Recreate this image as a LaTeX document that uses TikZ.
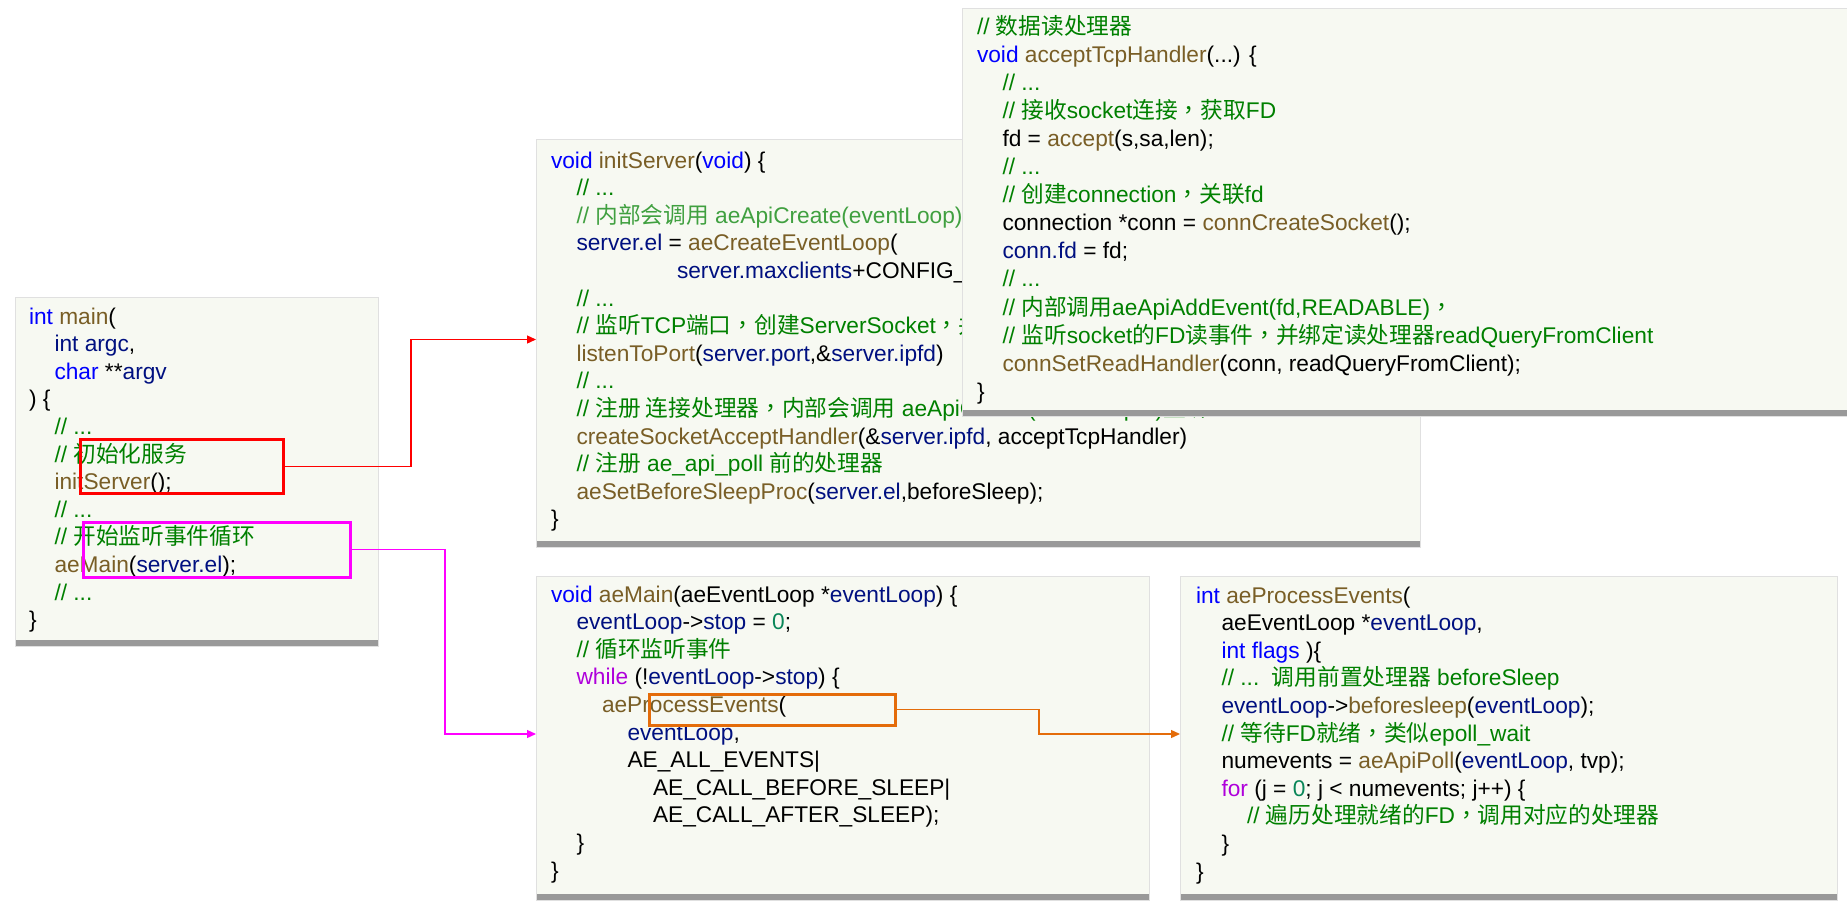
\documentclass[tikz,border=0pt]{standalone}
\usepackage{fontspec}
\setmainfont{Liberation Sans}
\newfontfamily\cjkfont{Noto Sans CJK SC}
\newfontfamily\cjkpunct{Noto Sans CJK TC}
\usetikzlibrary{arrows.meta,positioning}

\definecolor{kwblue}{RGB}{0,0,255}
\definecolor{fnbrown}{RGB}{121,94,38}
\definecolor{varblue}{RGB}{0,16,128}
\definecolor{ctlpurple}{RGB}{175,0,219}
\definecolor{cmtgreen}{RGB}{0,128,0}
\definecolor{cmtlight}{RGB}{64,160,64}
\definecolor{numteal}{RGB}{9,134,88}
\definecolor{boxbg}{RGB}{247,249,242}
\definecolor{barclr}{RGB}{153,153,153}
\definecolor{hlred}{RGB}{255,0,0}
\definecolor{hlpink}{RGB}{255,0,255}
\definecolor{hlorange}{RGB}{228,108,10}

% code colouring
\newcommand{\kw}[1]{{\color{kwblue}#1}}
\newcommand{\fn}[1]{{\color{fnbrown}#1}}
\newcommand{\vr}[1]{{\color{varblue}#1}}
\newcommand{\ctl}[1]{{\color{ctlpurple}#1}}
\newcommand{\cmt}[1]{{\color{cmtgreen}#1}}
\newcommand{\numc}[1]{{\color{numteal}#1}}
\newcommand{\zh}[1]{{\cjkfont #1}}
\newcommand{\zc}{{\cjkpunct ，}}
\newcommand{\ind}{\hspace*{25.5pt}}
\newcommand{\fl}{\rule{0pt}{21pt}}

\begin{document}
\begin{tikzpicture}[x=1pt,y=-1pt,
  codebox/.style={draw=black!12,line width=1pt,fill=boxbg,inner sep=0pt,outer sep=0pt,anchor=north west,
    path picture={\fill[barclr] ([yshift=6pt]path picture bounding box.south west) rectangle (path picture bounding box.south east);}},
  code/.style={anchor=north west,inner sep=0pt,outer sep=0pt,align=left,font=\fontsize{22.7}{27.6}\selectfont},
  hlbox/.style={line width=3.3pt,inner sep=0pt,anchor=north west},
  conn/.style={line width=1.3pt,-{Triangle[length=9pt,width=8pt]}}]
\clip (0,0) rectangle (1847,904);
\fill[white] (0,0) rectangle (1847,904);

% main()
\node[codebox,minimum width=363,minimum height=349] (mainbox) at (15,297) {};
\node[code] (maintxt) at ([xshift=14pt,yshift=-6pt]mainbox.north west) {\fl\kw{int} \fn{main}(\\
\ind\vr{int argc},\\
\ind\kw{char} **\vr{argv}\\
) \{\\
\ind\cmt{// ...}\\
\ind\cmt{// \zh{初始化服务}}\\
\ind\fn{initServer}();\\
\ind\cmt{// ...}\\
\ind\cmt{// \zh{开始监听事件循环}}\\
\ind\fn{aeMain}(\vr{server.el});\\
\ind\cmt{// ...}\\
\}};

% initServer()
\node[codebox,minimum width=884,minimum height=407] (initbox) at (536,140) {};
\node[code] (inittxt) at ([xshift=15pt,yshift=-7pt]initbox.north west) {\fl\kw{void} \fn{initServer}(\kw{void}) \{\\
\ind\cmt{// ...}\\
\ind{\color{cmtlight}// \zh{内部会调用} aeApiCreate(eventLoop)}\\
\ind\vr{server.el} = \fn{aeCreateEventLoop}(\\
\hspace*{126pt}\vr{server.maxclients}+CONFIG\_\\
\ind\cmt{// ...}\\
\ind\cmt{// \zh{监听}TCP\zh{端口}\zc\zh{创建}ServerSocket\zc\zh{并}}\\
\ind\fn{listenToPort}(\vr{server.port},\&\vr{server.ipfd})\\
\ind\cmt{// ...}\\
\ind\cmt{// \zh{注册 连接处理器}\zc\zh{内部会调用} aeApiCreate(\&server.ipfd)\zh{监听}FD}\\
\ind\fn{createSocketAcceptHandler}(\&\vr{server.ipfd}, acceptTcpHandler)\\
\ind\cmt{// \zh{注册} ae\_api\_poll \zh{前的处理器}}\\
\ind\fn{aeSetBeforeSleepProc}(\vr{server.el},beforeSleep);\\
\}};

% acceptTcpHandler(), on top of initServer
\node[codebox,minimum width=900,minimum height=407] (acceptbox) at (962,9) {};
\node[code,font=\fontsize{22.7}{28.1}\selectfont] (accepttxt) at ([xshift=15pt,yshift=-4pt]acceptbox.north west) {\fl\cmt{// \zh{数据读处理器}}\\
\kw{void} \fn{acceptTcpHandler}(...) \{\\
\ind\cmt{// ...}\\
\ind\cmt{// \zh{接收}socket\zh{连接}\zc\zh{获取}FD}\\
\ind fd = \fn{accept}(s,sa,len);\\
\ind\cmt{// ...}\\
\ind\cmt{// \zh{创建}connection\zc\zh{关联}fd}\\
\ind connection *conn = \fn{connCreateSocket}();\\
\ind\vr{conn.fd} = fd;\\
\ind\cmt{// ...}\\
\ind\cmt{// \zh{内部调用}aeApiAddEvent(fd,READABLE)\zc}\\
\ind\cmt{// \zh{监听}socket\zh{的}FD\zh{读事件}\zc\zh{并绑定读处理器}readQueryFromClient}\\
\ind\fn{connSetReadHandler}(conn, readQueryFromClient);\\
\}};

% aeMain()
\node[codebox,minimum width=613,minimum height=324] (loopbox) at (536,576) {};
\node[code] (looptxt) at ([xshift=15pt,yshift=-5pt]loopbox.north west) {\fl\kw{void} \fn{aeMain}(aeEventLoop *\vr{eventLoop}) \{\\
\ind\vr{eventLoop}->\vr{stop} = \numc{0};\\
\ind\cmt{// \zh{循环监听事件}}\\
\ind\ctl{while} (!\vr{eventLoop}->\vr{stop}) \{\\
\ind\ind\fn{aeProcessEvents}(\\
\ind\ind\ind\vr{eventLoop},\\
\ind\ind\ind AE\_ALL\_EVENTS|\\
\ind\ind\ind\ind AE\_CALL\_BEFORE\_SLEEP|\\
\ind\ind\ind\ind AE\_CALL\_AFTER\_SLEEP);\\
\ind\}\\
\}};

% aeProcessEvents()
\node[codebox,minimum width=657,minimum height=324] (procbox) at (1180,576) {};
\node[code] (proctxt) at ([xshift=16pt,yshift=-6pt]procbox.north west) {\fl\kw{int} \fn{aeProcessEvents}(\\
\ind aeEventLoop *\vr{eventLoop},\\
\ind\kw{int flags} )\{\\
\ind\cmt{// ...\ \ \zh{调用前置处理器} beforeSleep}\\
\ind\vr{eventLoop}->\fn{beforesleep}(\vr{eventLoop});\\
\ind\cmt{// \zh{等待}FD\zh{就绪}\zc\zh{类似}epoll\_wait}\\
\ind numevents = \fn{aeApiPoll}(\vr{eventLoop}, tvp);\\
\ind\ctl{for} (j = \numc{0}; j < numevents; j++) \{\\
\ind\ind\cmt{// \zh{遍历处理就绪的}FD\zc\zh{调用对应的处理器}}\\
\ind\}\\
\}};

% highlights and links
\node[hlbox,draw=hlred,minimum width=203,minimum height=54] (hlinit) at (78.6,437.6) {};
\node[hlbox,draw=hlpink,minimum width=267,minimum height=55] (hlmain) at (81.6,520.6) {};
\node[hlbox,draw=hlorange,minimum width=246,minimum height=31] (hlproc) at (647.6,692.6) {};
\draw[conn,hlred] (hlinit.east) -- ++(126,0) |- ([yshift=4pt]initbox.west);
\draw[conn,hlpink] (hlmain.east) -- ++(93,0) |- ([yshift=4pt]loopbox.west);
\draw[conn,hlorange] (hlproc.east) -- ++(142,0) |- ([yshift=4pt]procbox.west);
\end{tikzpicture}
\end{document}
